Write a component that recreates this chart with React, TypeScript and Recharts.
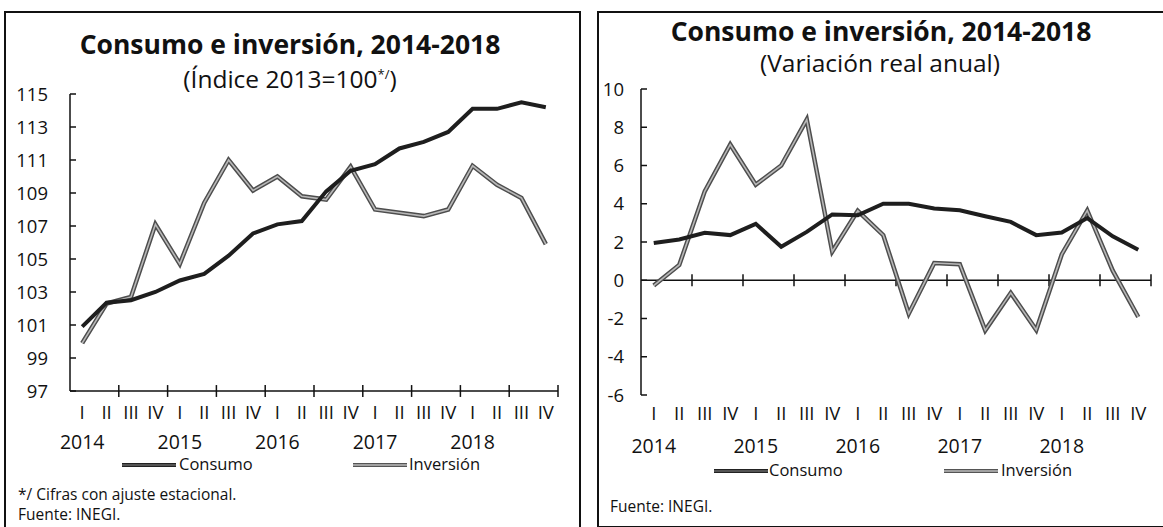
import React from 'react'
import { LineChart, Line, XAxis, YAxis, ReferenceLine } from 'recharts'

// quarters 2014-I .. 2018-IV
const quarterLabels = ['I', 'II', 'III', 'IV', 'I', 'II', 'III', 'IV', 'I', 'II', 'III', 'IV', 'I', 'II', 'III', 'IV', 'I', 'II', 'III', 'IV']
const yearLabels = ['2014', '2015', '2016', '2017', '2018']

// left panel: index 2013=100, seasonally adjusted
const indiceConsumo = [100.9, 102.35, 102.5, 103.0, 103.7, 104.1, 105.2, 106.55, 107.1, 107.3, 109.1, 110.35, 110.75, 111.7, 112.1, 112.7, 114.1, 114.1, 114.5, 114.2]
const indiceInversion = [99.9, 102.3, 102.7, 107.1, 104.7, 108.4, 111.0, 109.15, 110.0, 108.8, 108.6, 110.6, 108.0, 107.8, 107.6, 108.0, 110.65, 109.5, 108.7, 105.9]

// right panel: real annual variation (%)
const varConsumo = [1.95, 2.13, 2.48, 2.36, 2.95, 1.75, 2.53, 3.44, 3.4, 4.0, 4.0, 3.75, 3.66, 3.35, 3.05, 2.36, 2.5, 3.25, 2.3, 1.6]
const varInversion = [-0.28, 0.8, 4.65, 7.1, 5.0, 6.0, 8.4, 1.5, 3.63, 2.36, -1.75, 0.9, 0.84, -2.62, -0.66, -2.6, 1.35, 3.65, 0.5, -1.92]

const indiceTicks = [97, 99, 101, 103, 105, 107, 109, 111, 113, 115]
const varTicks = [-6, -4, -2, 0, 2, 4, 6, 8, 10]
const crossTicks = [2, 4, 6, 8, 10, 12, 14, 16, 18, 20]
const quarterTicks = quarterLabels.map((_, i) => i + 0.5)

const FONT = '"Open Sans", sans-serif'
const INK = '#111'

const indiceData = quarterLabels.map((q, i) => ({ pos: i + 0.5, q, consumo: indiceConsumo[i], inversion: indiceInversion[i] }))
const varData = quarterLabels.map((q, i) => ({ pos: i + 0.5, q, consumo: varConsumo[i], inversion: varInversion[i] }))

function YTick(props: any) {
  const { x, y, payload, gap } = props
  return (
    <g>
      <text x={x} y={y} dy={6.5} textAnchor="end" fontSize={18.5} fontFamily={FONT} fill={INK}>{payload.value}</text>
      <line x1={x + gap} x2={x + gap + 6} y1={y} y2={y} stroke={INK} strokeWidth={1.5} />
    </g>
  )
}

function QuarterTick(props: any) {
  const { x, y, payload, qDy, yDy } = props
  const i = Math.floor(payload.value)
  return (
    <g>
      <text x={x} y={y + qDy} fontSize={18.5} fontFamily={FONT} fill={INK} textAnchor="middle">{quarterLabels[i]}</text>
      {i % 4 === 0 && (
        <text x={x} y={y + yDy} fontSize={19.5} fontFamily={FONT} fill={INK} textAnchor="middle">{yearLabels[i / 4]}</text>
      )}
    </g>
  )
}

function Series() {
  return [
    <Line key="inv-edge" dataKey="inversion" stroke="#4d4d4d" strokeWidth={4.5} dot={false} isAnimationActive={false} />,
    <Line key="inv-core" dataKey="inversion" stroke="#b8b8b8" strokeWidth={1.6} dot={false} isAnimationActive={false} />,
    <Line key="con" dataKey="consumo" stroke="#1e1e1e" strokeWidth={4} dot={false} isAnimationActive={false} />,
  ]
}

function LegendSample({ x, y, light }: { x: number; y: number; light?: boolean }) {
  return (
    <svg style={{ position: 'absolute', left: x, top: y - 4 }} width={54} height={8}>
      <line x1={0} x2={54} y1={4} y2={4} stroke={light ? '#555' : '#222'} strokeWidth={4} />
      <line x1={0} x2={54} y1={4} y2={4} stroke={light ? '#bbb' : '#666'} strokeWidth={1.3} />
    </svg>
  )
}

const text = (left: number, top: number, size: number, content: React.ReactNode, extra: React.CSSProperties = {}) => (
  <div style={{ position: 'absolute', left, top, fontSize: size, lineHeight: 1, fontFamily: FONT, color: INK, whiteSpace: 'nowrap', ...extra }}>{content}</div>
)

const centered = (cx: number, cy: number, size: number, content: React.ReactNode, bold = false) => (
  <div style={{ position: 'absolute', left: cx - 300, width: 600, top: cy - size * 0.53, textAlign: 'center', fontSize: size, lineHeight: 1, fontFamily: FONT, fontWeight: bold ? 700 : 400, color: INK, whiteSpace: 'nowrap' }}>{content}</div>
)

export default function App() {
  return (
    <div style={{ position: 'absolute', left: 0, top: 0, width: 1163, height: 527, background: '#fff', overflow: 'hidden' }}>
      {/* panel frames */}
      <div style={{ position: 'absolute', left: 4, top: 11, width: 573, height: 530, borderLeft: '2px solid #111', borderTop: '2px solid #111', borderRight: '2px solid #111' }} />
      <div style={{ position: 'absolute', left: 597, top: 11, width: 580, height: 513, borderLeft: '2px solid #111', borderTop: '2px solid #111', borderBottom: '2px solid #111' }} />

      {/* left chart */}
      <div style={{ position: 'absolute', left: 0, top: 0 }}>
        <LineChart width={580} height={527} data={indiceData} margin={{ top: 94, right: 22, bottom: 106, left: 0 }}>
          <XAxis dataKey="pos" type="number" domain={[0, 20]} ticks={quarterTicks} interval={0} height={30}
            axisLine={{ stroke: INK, strokeWidth: 1.5 }} tickLine={false} tickSize={0} tickMargin={0}
            tick={(p: any) => <QuarterTick {...p} qDy={28} yDy={58} />} />
          <YAxis type="number" domain={[97, 115]} ticks={indiceTicks} interval={0} width={70}
            axisLine={{ stroke: INK, strokeWidth: 1.5 }} tickLine={false} tickSize={0} tickMargin={22}
            tick={(p: any) => <YTick {...p} gap={22} />} />
          {crossTicks.map(k => (
            <ReferenceLine key={k} segment={[{ x: k, y: 96.64 }, { x: k, y: 97.36 }]} stroke={INK} strokeWidth={1.5} ifOverflow="visible" />
          ))}
          {Series()}
        </LineChart>
      </div>

      {/* right chart */}
      <div style={{ position: 'absolute', left: 580, top: 0 }}>
        <LineChart width={583} height={527} data={varData} margin={{ top: 89, right: 12, bottom: 102, left: 0 }}>
          <XAxis dataKey="pos" type="number" domain={[0, 20]} ticks={quarterTicks} interval={0} height={30}
            axisLine={false} tickLine={false} tickSize={0} tickMargin={0}
            tick={(p: any) => <QuarterTick {...p} qDy={25} yDy={58} />} />
          <YAxis type="number" domain={[-6, 10]} ticks={varTicks} interval={0} width={61}
            axisLine={{ stroke: INK, strokeWidth: 1.5 }} tickLine={false} tickSize={0} tickMargin={17}
            tick={(p: any) => <YTick {...p} gap={17} />} />
          <ReferenceLine y={0} stroke={INK} strokeWidth={1.5} />
          {crossTicks.map(k => (
            <ReferenceLine key={k} segment={[{ x: k, y: -0.31 }, { x: k, y: 0.31 }]} stroke={INK} strokeWidth={1.5} ifOverflow="visible" />
          ))}
          {Series()}
        </LineChart>
      </div>

      {/* titles */}
      {centered(290, 45, 26.5, 'Consumo e inversión, 2014-2018', true)}
      {centered(290, 80, 24.5, <>(Índice 2013=100<sup style={{ fontSize: 13 }}>*/</sup>)</>)}
      {centered(881, 32, 26.5, 'Consumo e inversión, 2014-2018', true)}
      {centered(880, 64, 24.5, '(Variación real anual)')}

      {/* legends */}
      <LegendSample x={122} y={465} />
      {text(179, 456, 16.5, 'Consumo')}
      <LegendSample x={353} y={465} light />
      {text(409, 456, 16.5, 'Inversión')}
      <LegendSample x={714} y={471} />
      {text(769, 462, 16.5, 'Consumo')}
      <LegendSample x={944} y={471} light />
      {text(1001, 462, 16.5, 'Inversión')}

      {/* notes */}
      {text(18, 487, 15.5, '*/ Cifras con ajuste estacional.')}
      {text(18, 507, 15.5, 'Fuente: INEGI.')}
      {text(610, 499, 15.5, 'Fuente: INEGI.')}
    </div>
  )
}
